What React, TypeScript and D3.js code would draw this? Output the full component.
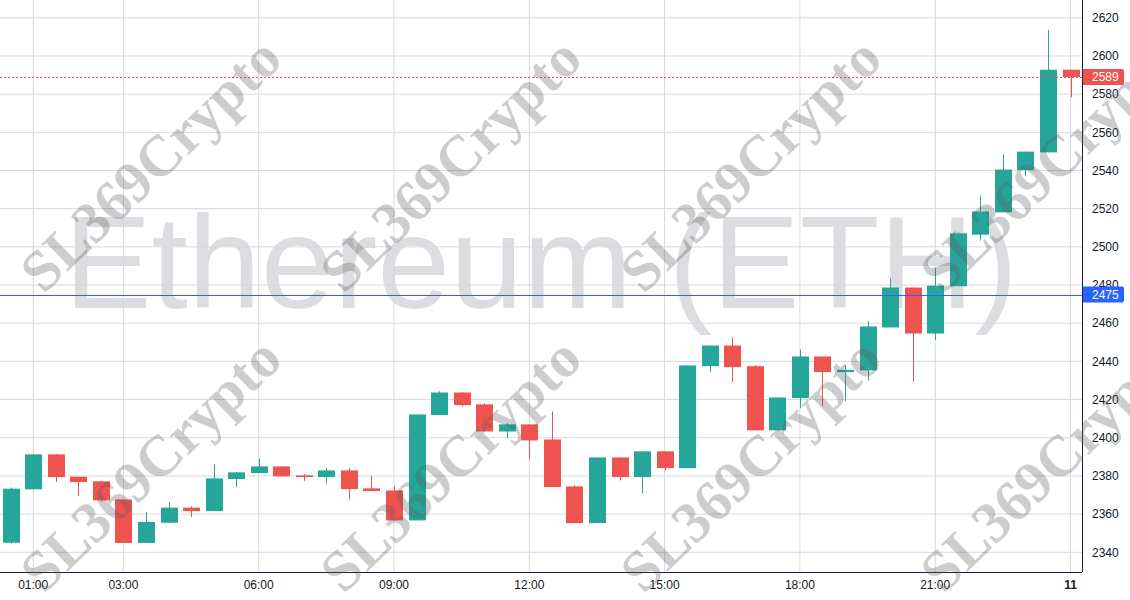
import React from 'react';
import { scaleLinear, scaleTime, max, min } from 'd3';

// 30 minute ETH candles, 10 Jan 00:30 .. 11 Jan 00:00
const opens = [
  2345, 2373, 2391.3, 2379.6, 2377.2, 2367.7, 2344.9, 2355.5, 2363.4, 2361.6, 2378.4, 2381.5,
  2385, 2380.3, 2379.4, 2382.9, 2373.5, 2372.4, 2356.7, 2411.9, 2423.7, 2417.5, 2403.3, 2407,
  2399.1, 2374.5, 2355.3, 2389.7, 2379.4, 2392.9, 2384.1, 2437.5, 2448.3, 2437.5, 2403.9, 2420.8,
  2442.6, 2434.4, 2435.3, 2457.8, 2478.7, 2454.6, 2479.4, 2506.4, 2518.1, 2540.3, 2549.5, 2592.8,
];
const highs = [
  2374, 2391.5, 2391.5, 2379.8, 2377.4, 2367.7, 2361.1, 2366.3, 2364.1, 2386.1, 2381.9, 2389,
  2385, 2381, 2384.1, 2384, 2380.1, 2374.5, 2412.2, 2424.4, 2423.9, 2418, 2407.7, 2407,
  2413.8, 2375.1, 2389.7, 2389.7, 2392.9, 2392.9, 2437.9, 2448.3, 2452.7, 2438, 2421.1, 2446.2,
  2442.6, 2437.9, 2461.1, 2483.4, 2478.7, 2488.8, 2507.6, 2526.8, 2548.3, 2549.9, 2613.7, 2592.8,
];
const lows = [
  2344.5, 2373, 2376.8, 2369.5, 2366.7, 2344.9, 2344.9, 2355.3, 2358.5, 2361.6, 2374.2, 2381.5,
  2379.8, 2377.3, 2376, 2367.6, 2372.1, 2356.7, 2356.7, 2411.9, 2416.4, 2403.3, 2399.7, 2388.7,
  2374.2, 2355.3, 2355.3, 2377.7, 2371, 2382.9, 2384.1, 2434.4, 2429.1, 2403.9, 2403.9, 2415.5,
  2416.6, 2419.2, 2430, 2457.8, 2429.5, 2451.3, 2479.4, 2503.3, 2518.1, 2537, 2549.5, 2578.3,
];
const closes = [
  2373.3, 2391.3, 2379.4, 2376.8, 2367.2, 2344.9, 2355.9, 2363.4, 2361.6, 2378.7, 2381.9, 2385,
  2379.8, 2379.4, 2382.9, 2373.1, 2372.1, 2356.7, 2412.2, 2423.7, 2417.1, 2403.3, 2407, 2398.6,
  2374.2, 2355.3, 2389.7, 2379.4, 2392.9, 2384.1, 2437.9, 2448.3, 2437, 2403.9, 2421.1, 2442.6,
  2434.4, 2435.6, 2458.3, 2478.7, 2454.6, 2479.7, 2507.1, 2518.6, 2540.5, 2549.9, 2592.8, 2589,
];

const tickHours = [1, 3, 6, 9, 12, 15, 18, 21, 24];
const tickLabels = ['01:00', '03:00', '06:00', '09:00', '12:00', '15:00', '18:00', '21:00', '11'];

const priceLines = [
  { value: 2475, color: '#2962ff', dashed: false },
  { value: 2589, color: '#ef5350', dashed: true },
];

const W = 1130;
const H = 600;
const plotRight = 1082;
const plotBottom = 572;
const UP = '#26a69a';
const DOWN = '#ef5350';
const FONT = '"Liberation Sans", Arial, sans-serif';

const day = (h: number, m = 0) => new Date(2024, 0, 10, h, m);

export default function App() {
  const x = scaleTime()
    .domain([day(0), day(24)])
    .range([-11.9, 1070.5]);
  const y = scaleLinear().domain([2340, 2620]).range([552.3, 17.8]);

  const barW = 17;
  const yTicks = y.ticks(14);

  const candles = opens.map((o, i) => ({
    t: day(0, 30 * (i + 1)),
    o,
    h: highs[i],
    l: lows[i],
    c: closes[i],
  }));

  // watermark tiles
  const marks: [number, number][] = [];
  [150, 450, 750, 1050].forEach(cx => [164, 464].forEach(cy => marks.push([cx, cy])));

  return (
    <svg
      width={W}
      height={H}
      style={{ position: 'absolute', left: 0, top: 0, background: '#fff' }}
    >
      <defs>
        <clipPath id='plot'>
          <rect x={0} y={0} width={plotRight} height={plotBottom} />
        </clipPath>
      </defs>

      <g clipPath='url(#plot)'>
        <text
          x={plotRight / 2}
          y={308}
          textAnchor='middle'
          fontFamily={FONT}
          fontSize={131}
          fill='rgba(120,123,134,0.26)'
        >
          Ethereum (ETH)
        </text>

        {/* grid */}
        {yTicks.map(v => (
          <line key={'gy' + v} x1={0} x2={plotRight} y1={y(v)} y2={y(v)} stroke='#d6d9dd' />
        ))}
        {tickHours.map(h => (
          <line key={'gx' + h} x1={x(day(h))} x2={x(day(h))} y1={0} y2={plotBottom} stroke='#d6d9dd' />
        ))}

        {/* candles */}
        {candles.map((d, i) => {
          const cx = Math.round(x(d.t)) + 0.5;
          const color = d.c >= d.o ? UP : DOWN;
          const top = y(max([d.o, d.c]) as number);
          const bot = y(min([d.o, d.c]) as number);
          return (
            <g key={i}>
              <line x1={cx} x2={cx} y1={y(d.h)} y2={y(d.l)} stroke={color} strokeWidth={1} />
              <rect
                x={cx - barW / 2}
                y={top}
                width={barW}
                height={Math.max(1, bot - top)}
                fill={color}
              />
            </g>
          );
        })}

        {priceLines.map(p => (
          <line
            key={'pl' + p.value}
            x1={0}
            x2={plotRight}
            y1={Math.round(y(p.value)) + 0.5}
            y2={Math.round(y(p.value)) + 0.5}
            stroke={p.color}
            strokeWidth={1}
            shapeRendering='crispEdges'
            strokeDasharray={p.dashed ? '2 2' : undefined}
          />
        ))}
      </g>

      {/* axes */}
      <line x1={0} x2={plotRight} y1={plotBottom + 0.5} y2={plotBottom + 0.5} stroke='#1f2140' />
      <line x1={plotRight + 0.5} x2={plotRight + 0.5} y1={0} y2={plotBottom} stroke='#1f2140' />

      {yTicks.map(v => (
        <text
          key={'ly' + v}
          x={1092}
          y={y(v)}
          dy='0.35em'
          fontFamily={FONT}
          fontSize={12}
          fill='#131722'
        >
          {v}
        </text>
      ))}
      {tickHours.map((h, i) => (
        <text
          key={'lx' + h}
          x={x(day(h))}
          y={585}
          dy='0.35em'
          textAnchor='middle'
          fontFamily={FONT}
          fontSize={12}
          fontWeight={tickLabels[i] === '11' ? 'bold' : 'normal'}
          fill='#131722'
        >
          {tickLabels[i]}
        </text>
      ))}

      {priceLines.map(p => {
        const py = y(p.value);
        return (
          <g key={'pb' + p.value}>
            <path
              d={`M${plotRight + 1},${py - 8}H${1122}a2,2 0 0 1 2,2V${py + 6}a2,2 0 0 1 -2,2H${plotRight + 1}Z`}
              fill={p.color}
            />
            <text
              x={1092}
              y={py}
              dy='0.35em'
              fontFamily={FONT}
              fontSize={12}
              fill='#fff'
            >
              {p.value}
            </text>
          </g>
        );
      })}

      {/* SL369Crypto watermark */}
      {marks.map(([cx, cy], i) => (
        <text
          key={'wm' + i}
          transform={`translate(${cx},${cy}) rotate(-44)`}
          textAnchor='middle'
          dy='0.35em'
          fontFamily='"Liberation Serif", "Times New Roman", serif'
          fontWeight='bold'
          fontSize={58}
          fill='rgba(90,90,90,0.3)'
        >
          SL369Crypto
        </text>
      ))}
    </svg>
  );
}
